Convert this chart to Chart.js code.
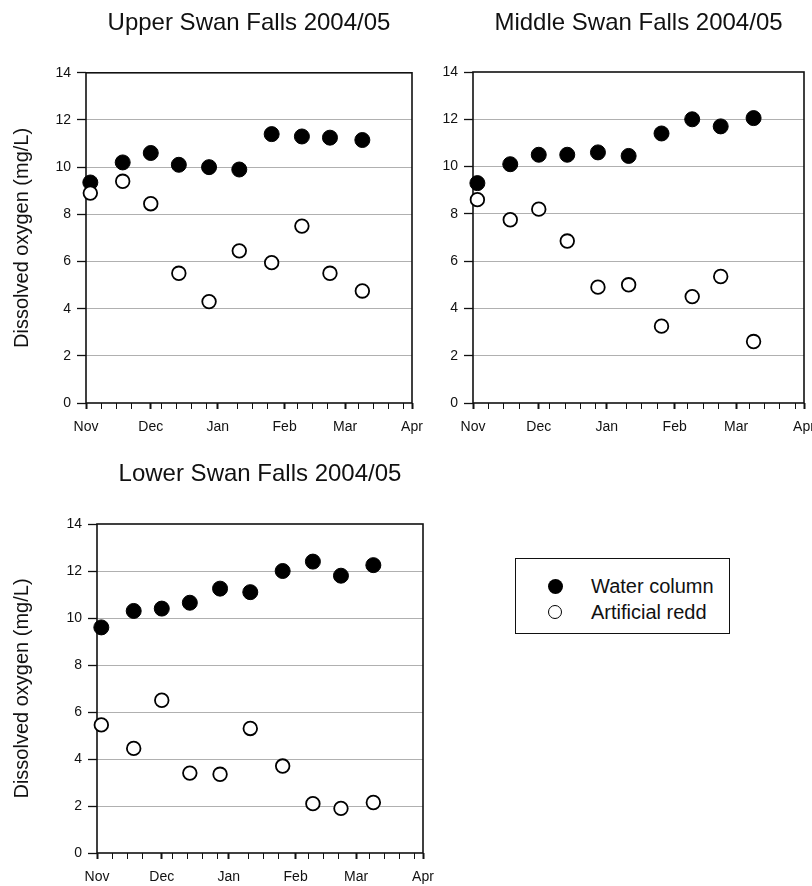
<!DOCTYPE html>
<html>
<head>
<meta charset="utf-8">
<script src="https://cdn.jsdelivr.net/npm/chart.js@4.4.1/dist/chart.umd.min.js"></script>
<style>
	body { margin: 0; background: #fff; width: 812px; height: 886px; overflow: hidden; position: relative; font-family: "Liberation Sans", Arial, sans-serif; }
	canvas { position: absolute; }
	#legend { position: absolute; left: 515px; top: 558px; width: 213px; height: 74px; border: 1.5px solid #111; }
	#legend .mark { position: absolute; left: 32px; width: 14px; height: 14px; border-radius: 50%; box-sizing: border-box; }
	#legend .txt { position: absolute; left: 75px; font-size: 20px; color: #111; line-height: 24px; }
</style>
</head>
<body>
<canvas id="upper" width="440" height="440" style="left:0px;top:0px"></canvas>
<canvas id="middle" width="440" height="440" style="left:400px;top:0px"></canvas>
<canvas id="lower" width="450" height="446" style="left:0px;top:440px"></canvas>

<div id="legend">
	<span class="mark" style="top:20px;background:#000;width:15px;height:15px;"></span>
	<span class="txt" style="top:15px;">Water column</span>
	<span class="mark" style="top:46px;background:#fff;border:1.8px solid #000;"></span>
	<span class="txt" style="top:41px;">Artificial redd</span>
</div>

<script>
// sampling dates, days after 1 Nov 2004
var sampleDays = [2, 17, 30, 43, 57, 71, 86, 100, 113, 128];

// month ticks (days after 1 Nov)
var monthDays = [0, 30, 61, 92, 120, 151];
var monthLabels = ['Nov', 'Dec', 'Jan', 'Feb', 'Mar', 'Apr'];
var yTicks = [0, 2, 4, 6, 8, 10, 12, 14];

// dissolved oxygen (mg/L)
var upperWater = [9.35, 10.2, 10.6, 10.1, 10.0, 9.9, 11.4, 11.3, 11.25, 11.15];
var upperRedd = [8.9, 9.4, 8.45, 5.5, 4.3, 6.45, 5.95, 7.5, 5.5, 4.75];
var middleWater = [9.3, 10.1, 10.5, 10.5, 10.6, 10.45, 11.4, 12.0, 11.7, 12.05];
var middleRedd = [8.6, 7.75, 8.2, 6.85, 4.9, 5.0, 3.25, 4.5, 5.35, 2.6];
var lowerWater = [9.6, 10.3, 10.4, 10.65, 11.25, 11.1, 12.0, 12.4, 11.8, 12.25];
var lowerRedd = [5.45, 4.45, 6.5, 3.4, 3.35, 5.3, 3.7, 2.1, 1.9, 2.15];

// weekly minor ticks plus month ticks
var xTicks = monthDays.slice();
for (var d = 7; d < 151; d += 7) {
	var near = monthDays.some(function(m) { return Math.abs(m - d) <= 3; });
	if (!near) xTicks.push(d);
}
xTicks.sort(function(a, b) { return a - b; });

var fontFamily = '"Liberation Sans", Arial, sans-serif';

// box around the plot area
var framePlugin = {
	id: 'frame',
	beforeDatasetsDraw: function(chart) {
		var a = chart.chartArea, ctx = chart.ctx;
		ctx.save();
		ctx.strokeStyle = '#111';
		ctx.lineWidth = 1.6;
		ctx.strokeRect(a.left, a.top, a.right - a.left, a.bottom - a.top);
		ctx.restore();
	}
};

function toPoints(vals) {
	return sampleDays.map(function(d, i) { return {x: d, y: vals[i]}; });
}

function makePanel(id, title, water, redd, p) {
	var ctx = document.getElementById(id).getContext('2d');
	return new Chart(ctx, {
		type: 'scatter',
		data: {
			datasets: [{
				label: 'Water column',
				data: toPoints(water),
				backgroundColor: '#000',
				borderColor: '#000',
				borderWidth: 1,
				pointRadius: 7.5,
				clip: false,
				order: 1
			}, {
				label: 'Artificial redd',
				data: toPoints(redd),
				backgroundColor: '#fff',
				borderColor: '#000',
				borderWidth: 1.8,
				pointRadius: 6.8,
				clip: false,
				order: 0
			}]
		},
		options: {
			responsive: false,
			animation: false,
			layout: { padding: p.pad },
			plugins: {
				legend: { display: false },
				tooltip: { enabled: false },
				title: {
					display: true,
					text: title,
					fullSize: false,
					color: '#111',
					font: { family: fontFamily, size: 24, weight: 'normal' },
					padding: p.titlePad
				}
			},
			scales: {
				x: {
					type: 'linear',
					min: 0,
					max: 151,
					afterBuildTicks: function(axis) {
						axis.ticks = xTicks.map(function(v) { return {value: v}; });
					},
					afterFit: function(axis) { axis.height = 33; },
					border: { display: false },
					grid: {
						drawOnChartArea: false,
						drawTicks: true,
						tickLength: 6,
						tickColor: '#111',
						tickWidth: function(c) { return monthDays.indexOf(c.tick.value) >= 0 ? 2 : 1; }
					},
					ticks: {
						autoSkip: false,
						maxRotation: 0,
						padding: 10,
						color: '#111',
						font: { family: fontFamily, size: 14 },
						callback: function(v) {
							var i = monthDays.indexOf(v);
							return i >= 0 ? monthLabels[i] : '';
						}
					}
				},
				y: {
					min: 0,
					max: 14,
					afterBuildTicks: function(axis) {
						axis.ticks = yTicks.map(function(v) { return {value: v}; });
					},
					afterFit: function(axis) { axis.width = p.yWidth; },
					border: { display: false },
					grid: {
						color: function(c) {
							return (c.tick && (c.tick.value === 0 || c.tick.value === 14)) ? 'rgba(0,0,0,0)' : '#b0b0b0';
						},
						lineWidth: 1,
						drawTicks: true,
						tickLength: 9,
						tickColor: '#111',
						tickWidth: 1.3
					},
					ticks: {
						padding: 6,
						color: '#111',
						font: { family: fontFamily, size: 14 }
					},
					title: {
						display: p.yTitle,
						text: 'Dissolved oxygen (mg/L)',
						color: '#111',
						font: { family: fontFamily, size: 20 },
						padding: { top: 10.5, bottom: 0 }
					}
				}
			}
		},
		plugins: [framePlugin]
	});
}

window.onload = function() {
	makePanel('upper', 'Upper Swan Falls 2004/05', upperWater, upperRedd, {
		pad: { left: 0, right: 28, top: 0, bottom: 4 },
		titlePad: { top: 9, bottom: 35 },
		yWidth: 86,
		yTitle: true
	});
	makePanel('middle', 'Middle Swan Falls 2004/05', middleWater, middleRedd, {
		pad: { left: 0, right: 36, top: 0, bottom: 4 },
		titlePad: { top: 8.5, bottom: 34.7 },
		yWidth: 73,
		yTitle: false
	});
	makePanel('lower', 'Lower Swan Falls 2004/05', lowerWater, lowerRedd, {
		pad: { left: 0, right: 27, top: 0, bottom: 0 },
		titlePad: { top: 19.5, bottom: 35.7 },
		yWidth: 97,
		yTitle: true
	});
};
</script>
</body>
</html>
